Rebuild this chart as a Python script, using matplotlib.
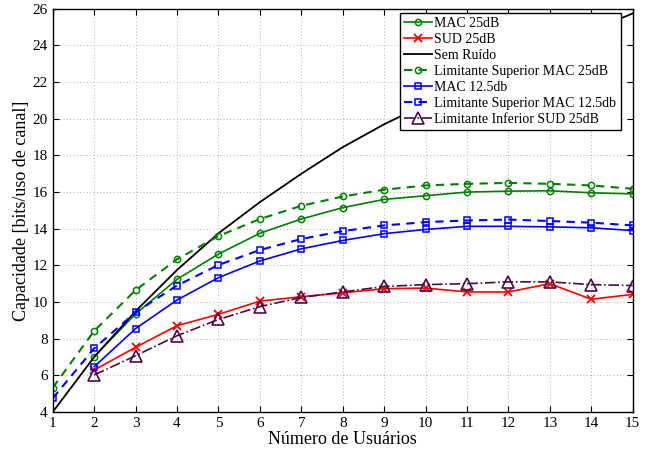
import numpy as np
import matplotlib.pyplot as plt

plt.rcParams['font.family'] = ['Liberation Serif', 'DejaVu Serif']
plt.rcParams['mathtext.fontset'] = 'stix'

# numero de usuarios
k_all = [1, 2, 3, 4, 5, 6, 7, 8, 9, 10, 11, 12, 13, 14, 15]
k2 = k_all[1:]

mac25 = [7.02, 9.35, 11.24, 12.62, 13.75, 14.53, 15.15, 15.6, 15.8, 16.0, 16.05, 16.07, 15.96, 15.9]
sud25 = [6.29, 7.53, 8.71, 9.33, 10.05, 10.29, 10.5, 10.73, 10.76, 10.55, 10.55, 11.0, 10.15, 10.42]
sem_ruido = [4.0, 7.0, 9.5, 11.75, 13.75, 15.45, 17.0, 18.45, 19.7, 20.8, 21.8, 22.8, 23.8, 24.8, 25.75]
lim_sup_mac25 = [5.33, 8.42, 10.65, 12.33, 13.6, 14.53, 15.25, 15.76, 16.13, 16.36, 16.45, 16.5, 16.45, 16.36, 16.18]
mac125 = [6.47, 8.55, 10.11, 11.33, 12.24, 12.9, 13.36, 13.73, 13.96, 14.13, 14.13, 14.1, 14.05, 13.9]
lim_sup_mac125 = [4.75, 7.47, 9.44, 10.9, 12.02, 12.84, 13.44, 13.87, 14.18, 14.36, 14.45, 14.5, 14.42, 14.33, 14.18]
lim_inf_sud25 = [6.02, 7.07, 8.16, 9.05, 9.75, 10.25, 10.55, 10.85, 10.95, 11.0, 11.1, 11.1, 10.95, 10.9]

verde = '#008000'
roxo = '#4a0a48'

fig = plt.figure(figsize=(6.51, 4.51), dpi=100)
ax = fig.add_axes([0.081, 0.0865, 0.891, 0.894])

ax.plot(k2, mac25, '-o', color=verde, lw=1.2, ms=4.5, mfc='none', mew=1.1, label='MAC 25dB')
ax.plot(k2, sud25, '-x', color='red', lw=1.2, ms=6, mew=1.3, label='SUD 25dB')
ax.plot(k_all, sem_ruido, '-', color='black', lw=1.3, label='Sem Ruído')
ax.plot(k_all, lim_sup_mac25, '--o', color=verde, lw=1.5, ms=4.5, mfc='none', mew=1.1,
        dashes=(4, 3), label='Limitante Superior MAC 25dB')
ax.plot(k2, mac125, '-s', color='blue', lw=1.2, ms=4, mfc='none', mew=1.1, label='MAC 12.5db')
ax.plot(k_all, lim_sup_mac125, '--s', color='blue', lw=1.5, ms=4, mfc='none', mew=1.1,
        dashes=(4, 3), label='Limitante Superior MAC 12.5db')
ax.plot(k2, lim_inf_sud25, '-.^', color=roxo, lw=1.2, ms=8, mfc='none', mew=1.2,
        label='Limitante Inferior SUD 25dB')

ax.set_xlim(1, 15)
ax.set_ylim(4, 26)
ax.set_xticks(k_all)
ax.set_yticks(np.arange(4, 27, 2))
ax.grid(True, linestyle=(0, (1, 3)), color='#999999', lw=0.6)
ax.tick_params(direction='in', top=True, right=True, labelsize=11, length=4)
for s in ax.spines.values():
    s.set_linewidth(1.0)

ax.set_xlabel('Número de Usuários', fontsize=13, labelpad=1)
ax.set_ylabel('Capacidade [bits/uso de canal]', fontsize=13, labelpad=2)

leg = ax.legend(loc='upper right', bbox_to_anchor=(0.979, 0.99), fontsize=10,
                fancybox=False, edgecolor='black', framealpha=1,
                borderpad=0.3, labelspacing=0.22, handlelength=2.0,
                handletextpad=0.2, borderaxespad=0.0)
leg.get_frame().set_linewidth(1.0)

fig.savefig('out.png', dpi=100)
